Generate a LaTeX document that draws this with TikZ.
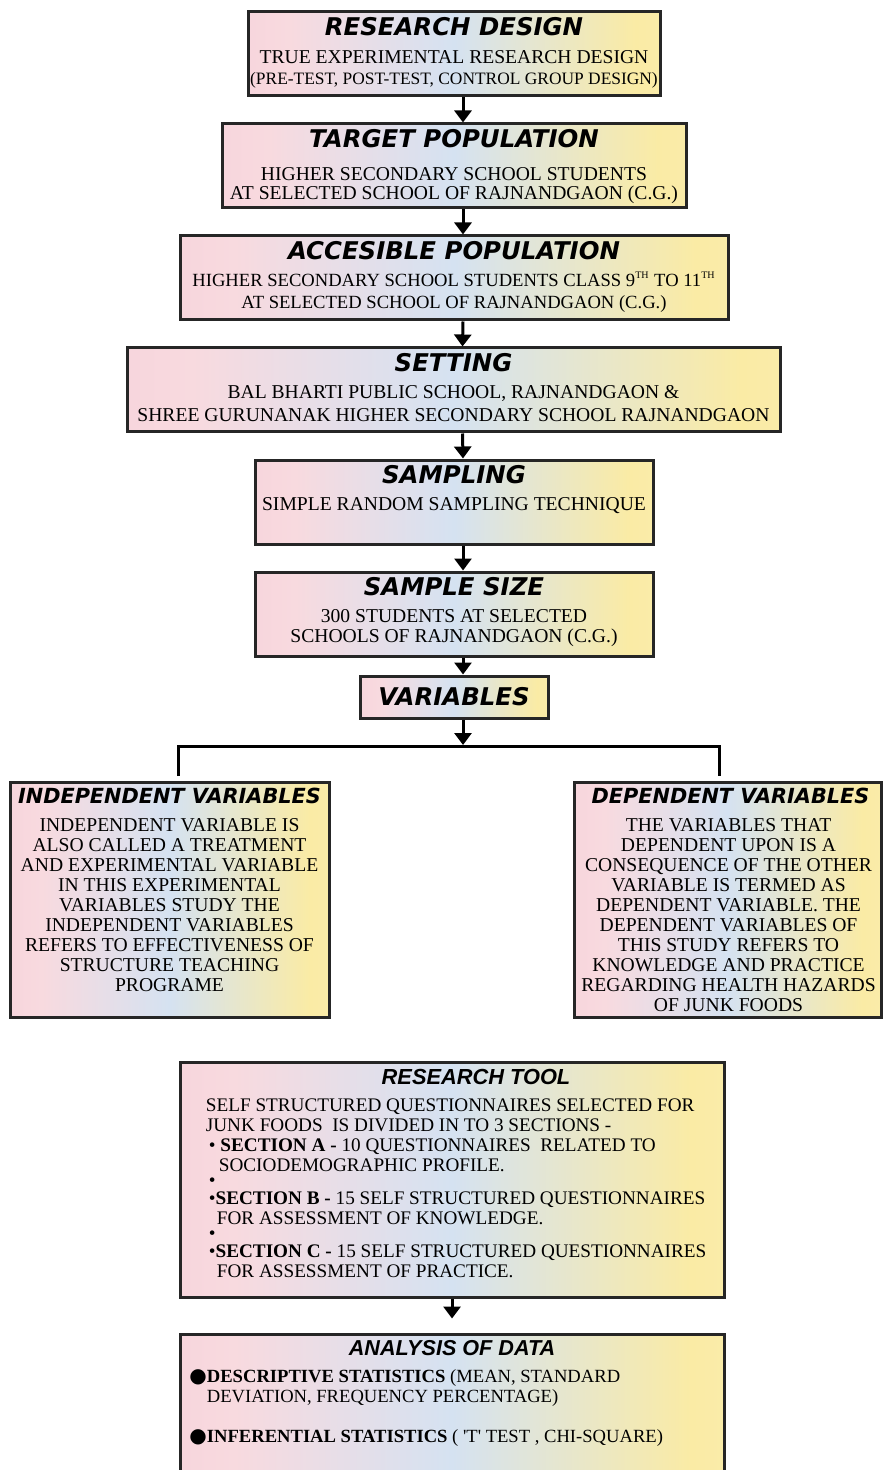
\documentclass[tikz,border=0pt]{standalone}
\usepackage{fontspec}
\setmainfont{Liberation Serif}
\newfontfamily\headfont{DejaVu Sans}
\newfontfamily\toolfont{Liberation Sans}
\newfontfamily\dotfont{DejaVu Sans}
\usetikzlibrary{arrows.meta,positioning}

\definecolor{washpink}{HTML}{F3C0D0}
\definecolor{washrose}{HTML}{F8DADF}
\definecolor{washblue}{HTML}{D5E2F1}
\definecolor{washyellow}{HTML}{FAEBA5}
\definecolor{washcream}{HTML}{FBF1C8}
\pgfdeclarehorizontalshading{wash}{100bp}{color(0bp)=(washpink); color(30bp)=(washrose); color(50bp)=(washblue); color(72bp)=(washyellow); color(100bp)=(washcream)}

\tikzset{
    washbox/.style={draw=black!85, line width=1.5pt, shading=wash, inner sep=0pt},
    boxtitle/.style={inner sep=0pt, font=\headfont\bfseries\itshape\fontsize{12.2}{14}\selectfont},
    smalltitle/.style={inner sep=0pt, font=\headfont\bfseries\itshape\fontsize{10.4}{12}\selectfont},
    tooltitle/.style={inner sep=0pt, font=\toolfont\bfseries\itshape\fontsize{10.9}{12}\selectfont},
    boxtext/.style={inner sep=0pt, align=center, font=\fontsize{9.8}{10.5}\selectfont},
    vartext/.style={inner sep=0pt, align=center, font=\fontsize{9.8}{10}\selectfont},
    flow/.style={-{Triangle[width=8.5pt,length=6pt]}, line width=1.5pt},
    link/.style={line width=1.5pt}
}
\newcommand{\thmark}{\textsuperscript{\fontsize{5}{5}\selectfont TH}}
\newcommand{\bigdot}{\llap{{\dotfont\fontsize{10}{10}\selectfont ●}}}

\begin{document}
\begin{tikzpicture}[x=0.5pt, y=-0.5pt]
    \useasboundingbox (0,0) rectangle (882,1470);

    \node[washbox, minimum width=206pt, minimum height=42pt] (design) at (454,54) {};
    \node[boxtitle, below=3pt of design.north] (designtitle) {RESEARCH DESIGN};
    \node[boxtext, below=7pt of designtitle] (designtext)
	{TRUE EXPERIMENTAL RESEARCH DESIGN\\ {\fontsize{8.7}{10.5}\selectfont (PRE-TEST, POST-TEST, CONTROL GROUP DESIGN)}};

    \node[washbox, minimum width=232pt, minimum height=42pt] (target) at (454,166) {};
    \node[boxtitle, below=3pt of target.north] (targettitle) {TARGET POPULATION};
    \node[boxtext, below=9.5pt of targettitle, font=\fontsize{9.8}{9.5}\selectfont] (targettext)
	{HIGHER SECONDARY SCHOOL STUDENTS\\ AT SELECTED SCHOOL OF RAJNANDGAON (C.G.)};

    \node[washbox, minimum width=274pt, minimum height=42pt] (access) at (454,278) {};
    \node[boxtitle, below=3pt of access.north] (accesstitle) {ACCESIBLE POPULATION};
    \node[boxtext, below=6pt of accesstitle, font=\fontsize{9.3}{11}\selectfont] (accesstext)
	{HIGHER SECONDARY SCHOOL STUDENTS CLASS 9\thmark{} TO 11\thmark\\ AT SELECTED SCHOOL OF RAJNANDGAON (C.G.)};

    \node[washbox, minimum width=326.5pt, minimum height=42pt] (setting) at (453.5,390) {};
    \node[boxtitle, below=3pt of setting.north] (settingtitle) {SETTING};
    \node[boxtext, below=6.5pt of settingtitle, font=\fontsize{9.8}{11.5}\selectfont] (settingtext)
	{BAL BHARTI PUBLIC SCHOOL, RAJNANDGAON \&\\ SHREE GURUNANAK HIGHER SECONDARY SCHOOL RAJNANDGAON};

    \node[washbox, minimum width=199pt, minimum height=42pt] (sampling) at (454,502) {};
    \node[boxtitle, below=3pt of sampling.north] (samplingtitle) {SAMPLING};
    \node[boxtext, below=6.5pt of samplingtitle] (samplingtext) {SIMPLE RANDOM SAMPLING TECHNIQUE};

    \node[washbox, minimum width=199pt, minimum height=42pt] (size) at (454,614) {};
    \node[boxtitle, below=3pt of size.north] (sizetitle) {SAMPLE SIZE};
    \node[boxtext, below=6.5pt of sizetitle, font=\fontsize{9.8}{10}\selectfont] (sizetext)
	{300 STUDENTS AT SELECTED\\ SCHOOLS OF RAJNANDGAON (C.G.)};

    \node[washbox, boxtitle, minimum width=94pt, minimum height=21pt] (variables) at (454,697) {VARIABLES};

    \node[washbox, minimum width=159.5pt, minimum height=117.5pt] (indep) at (169.5,899.5) {};
    \node[smalltitle, below=3.5pt of indep.north] (indeptitle) {INDEPENDENT VARIABLES};
    \node[vartext, below=7pt of indeptitle] (indeptext)
	{INDEPENDENT VARIABLE IS\\ ALSO CALLED A TREATMENT\\ AND EXPERIMENTAL VARIABLE\\
	IN THIS EXPERIMENTAL\\ VARIABLES STUDY THE\\ INDEPENDENT VARIABLES\\
	REFERS TO EFFECTIVENESS OF\\ STRUCTURE TEACHING\\ PROGRAME};

    \node[washbox, minimum width=153.5pt, minimum height=117.5pt] (dep) at (727.5,899.5) {};
    \node[smalltitle, below=3.5pt of dep.north, xshift=1.5pt] (deptitle) {DEPENDENT VARIABLES};
    \node[vartext, below=7pt of deptitle, xshift=-1pt] (deptext)
	{THE VARIABLES THAT\\ DEPENDENT UPON IS A\\ CONSEQUENCE OF THE OTHER\\
	VARIABLE IS TERMED AS\\ DEPENDENT VARIABLE. THE\\ DEPENDENT VARIABLES OF\\
	THIS STUDY REFERS TO\\ KNOWLEDGE AND PRACTICE\\ REGARDING HEALTH HAZARDS\\ OF JUNK FOODS};

    \node[washbox, minimum width=272pt, minimum height=117.5pt] (tool) at (452,1179.5) {};
    \node[tooltitle, below=4pt of tool.north, xshift=12pt] (tooltitle) {RESEARCH TOOL};
    \node[vartext, align=left, anchor=north west, font=\fontsize{9.6}{10}\selectfont] (tooltext) at ([xshift=13.5pt,yshift=-19pt]tool.north west)
	{SELF STRUCTURED QUESTIONNAIRES SELECTED FOR\\
	JUNK FOODS\ \ IS DIVIDED IN TO 3 SECTIONS -\\
	\hspace*{1.5pt}\textbullet\ \textbf{SECTION A -} 10 QUESTIONNAIRES\ \ RELATED TO\\
	\hspace*{6.5pt}SOCIODEMOGRAPHIC PROFILE.\\[-2.5pt]
	\hspace*{1.5pt}\textbullet\\[-1pt]
	\hspace*{1.5pt}\textbullet\textbf{SECTION B -} 15 SELF STRUCTURED QUESTIONNAIRES\\
	\hspace*{5.5pt}FOR ASSESSMENT OF KNOWLEDGE.\\[-2.5pt]
	\hspace*{1.5pt}\textbullet\\[-1pt]
	\hspace*{1.5pt}\textbullet\textbf{SECTION C -} 15 SELF STRUCTURED QUESTIONNAIRES\\
	\hspace*{5.5pt}FOR ASSESSMENT OF PRACTICE.};

    \node[washbox, minimum width=272pt, minimum height=78pt] (analysis) at (452,1412) {};
    \node[tooltitle, below=4pt of analysis.north, font=\toolfont\bfseries\itshape\fontsize{10.8}{12}\selectfont] (analysistitle) {ANALYSIS OF DATA};
    \node[vartext, align=left, anchor=north west, font=\fontsize{9.3}{10}\selectfont] (analysistext) at ([xshift=14pt,yshift=-18.5pt]analysis.north west)
	{\bigdot\textbf{DESCRIPTIVE STATISTICS} (MEAN, STANDARD\\
	DEVIATION, FREQUENCY PERCENTAGE)\\[10pt]
	\bigdot\textbf{INFERENTIAL STATISTICS} ( \textquotesingle T\textquotesingle{} TEST , CHI-SQUARE)};

    \foreach \a/\b in {design/target, target/access, access/setting, setting/sampling, sampling/size, size/variables}
	\draw[flow] ([xshift=4.5pt]\a.south) -- ([xshift=4.5pt]\b.north);

    \coordinate (split) at (463,745);
    \coordinate (lsplit) at (178,746);
    \coordinate (rsplit) at (719,746);
    \coordinate (lfoot) at (178,776);
    \coordinate (rfoot) at (719,776);
    \draw[flow] ([xshift=4.5pt]variables.south) -- (split);
    \draw[link] (lfoot) -- (lsplit) -- (rsplit) -- (rfoot);
    \draw[flow, shorten >=7pt] (tool.south) -- (analysis.north);
\end{tikzpicture}
\end{document}
